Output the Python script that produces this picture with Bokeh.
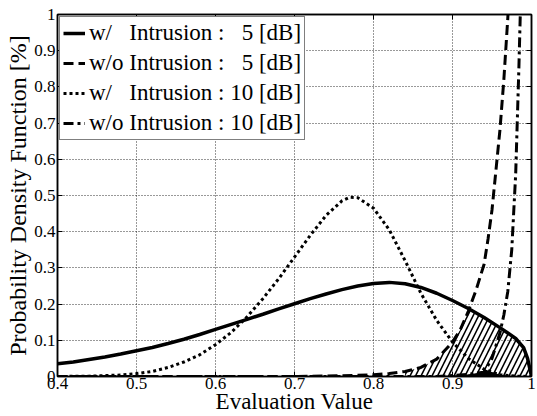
import numpy as np
from bokeh.plotting import figure
from bokeh.models import FixedTicker, Legend, LegendItem, Range1d, LinearAxis
from bokeh.embed import file_html
from bokeh.resources import INLINE

# w/ Intrusion : 5 [dB]  (solid)
x_w5 = [0.40, 0.42, 0.44, 0.46, 0.48, 0.50, 0.52, 0.54, 0.56, 0.58, 0.60, 0.62, 0.64, 0.66,
        0.68, 0.70, 0.72, 0.74, 0.76, 0.78, 0.80, 0.82, 0.84, 0.86, 0.88, 0.90, 0.92, 0.94,
        0.96, 0.97, 0.98, 0.99, 0.995, 1.00]
y_w5 = [0.035, 0.040, 0.047, 0.054, 0.062, 0.071, 0.080, 0.091, 0.103, 0.116, 0.130, 0.144,
        0.158, 0.172, 0.187, 0.201, 0.215, 0.228, 0.240, 0.250, 0.257, 0.260, 0.256, 0.246,
        0.230, 0.210, 0.188, 0.163, 0.135, 0.120, 0.105, 0.080, 0.050, 0.0]

# w/o Intrusion : 5 [dB]  (dashed)
x_wo5 = [0.40, 0.70, 0.76, 0.80, 0.82, 0.84, 0.86, 0.88, 0.90, 0.91, 0.92, 0.93, 0.94, 0.945,
         0.95, 0.96, 0.965, 0.97, 0.975]
y_wo5 = [0.0, 0.0, 0.002, 0.005, 0.008, 0.014, 0.025, 0.048, 0.095, 0.130, 0.180, 0.240,
         0.310, 0.380, 0.460, 0.680, 0.820, 0.990, 1.200]

# w/ Intrusion : 10 [dB]  (dotted)
x_w10 = [0.40, 0.44, 0.48, 0.50, 0.52, 0.54, 0.56, 0.58, 0.60, 0.62, 0.64, 0.66, 0.68, 0.70,
         0.72, 0.74, 0.76, 0.77, 0.78, 0.80, 0.82, 0.84, 0.86, 0.88, 0.90, 0.92, 0.94, 0.96,
         0.98, 1.00]
y_w10 = [0.0, 0.001, 0.004, 0.008, 0.014, 0.025, 0.040, 0.060, 0.088, 0.122, 0.165, 0.215,
         0.270, 0.330, 0.390, 0.445, 0.485, 0.495, 0.494, 0.465, 0.405, 0.320, 0.230, 0.155,
         0.095, 0.050, 0.020, 0.005, 0.001, 0.0]

# w/o Intrusion : 10 [dB]  (dash-dot)
x_wo10 = [0.40, 0.88, 0.90, 0.92, 0.94, 0.95, 0.96, 0.965, 0.97, 0.975, 0.98, 0.984, 0.987]
y_wo10 = [0.0, 0.0, 0.003, 0.006, 0.012, 0.050, 0.120, 0.170, 0.235, 0.350, 0.560, 0.850, 1.100]

x_ticks = [0.4, 0.5, 0.6, 0.7, 0.8, 0.9, 1.0]
y_ticks = [0.0, 0.1, 0.2, 0.3, 0.4, 0.5, 0.6, 0.7, 0.8, 0.9, 1.0]

labels = ["w/\u00a0\u00a0\u00a0Intrusion :\u00a0\u00a0\u00a05 [dB]",
          "w/o Intrusion :\u00a0\u00a0\u00a05 [dB]",
          "w/\u00a0\u00a0\u00a0Intrusion : 10 [dB]",
          "w/o Intrusion : 10 [dB]"]

FONT = "Liberation Serif"

p = figure(width=537, height=416, output_backend="svg", toolbar_location=None,
           x_range=Range1d(0.4, 1.0), y_range=Range1d(0, 1.0),
           min_border_left=57, min_border_right=6, min_border_top=14, min_border_bottom=39)

p.outline_line_color = "black"
p.outline_line_width = 1.5
p.background_fill_color = "white"

for ax, ticks in ((p.xaxis[0], x_ticks), (p.yaxis[0], y_ticks)):
    ax.ticker = FixedTicker(ticks=ticks)
    ax.major_tick_in = 5
    ax.major_tick_out = 0
    ax.minor_tick_line_color = None
    ax.axis_line_color = "black"
    ax.axis_line_width = 1.5
    ax.major_label_text_font = FONT
    ax.major_label_text_font_size = "17px"
    ax.major_label_text_color = "black"
    ax.axis_label_text_font = FONT
    ax.axis_label_text_font_style = "normal"
    ax.axis_label_text_color = "black"

p.xaxis.axis_label = "Evaluation Value"
p.yaxis.axis_label = "Probability Density Function [%]"
p.xaxis.axis_label_text_font_size = "23px"
p.yaxis.axis_label_text_font_size = "24px"
p.xaxis.major_label_overrides = {1.0: "1"}
p.yaxis.major_label_overrides = {0.0: "0", 1.0: "1"}
p.xaxis.major_label_standoff = 1
p.yaxis.major_label_standoff = 2
p.xaxis.axis_label_standoff = -3
p.yaxis.axis_label_standoff = 0

# inward ticks on the right and top edges (no labels)
for side, ticks in (("right", y_ticks), ("above", x_ticks)):
    ax2 = LinearAxis(ticker=FixedTicker(ticks=ticks))
    ax2.major_tick_in = 5
    ax2.major_tick_out = 0
    ax2.minor_tick_line_color = None
    ax2.major_label_text_font_size = "0px"
    ax2.major_label_standoff = 0
    ax2.axis_line_width = 1.5
    ax2.major_label_text_alpha = 0
    p.add_layout(ax2, side)

p.grid.grid_line_color = "black"
p.grid.grid_line_dash = "1 2"
p.grid.grid_line_width = 1
p.grid.grid_line_alpha = 0.8

# hatched overlap region between 5 dB curves
xs = np.linspace(0.84, 1.0, 161)
top5 = np.minimum(np.interp(xs, x_w5, y_w5), np.interp(xs, x_wo5, y_wo5, right=10))
p.varea(x=xs, y1=0, y2=top5, fill_alpha=0, hatch_pattern="/", hatch_color="black",
        hatch_weight=1.6, hatch_scale=11)

# filled overlap between 10 dB curves
xs2 = np.linspace(0.88, 1.0, 121)
top10 = np.minimum(np.interp(xs2, x_w10, y_w10), np.interp(xs2, x_wo10, y_wo10, right=10))
p.varea(x=xs2, y1=0, y2=top10, fill_color="black")

r1 = p.line(x_w5, y_w5, line_color="black", line_width=3.5)
r2 = p.line(x_wo5, y_wo5, line_color="black", line_width=3, line_dash="10 5")
r3 = p.line(x_w10, y_w10, line_color="black", line_width=3, line_dash="3 3")
r4 = p.line(x_wo10, y_wo10, line_color="black", line_width=3, line_dash="10 4 3 4")

legend = Legend(items=[LegendItem(label=labels[0], renderers=[r1]),
                       LegendItem(label=labels[1], renderers=[r2]),
                       LegendItem(label=labels[2], renderers=[r3]),
                       LegendItem(label=labels[3], renderers=[r4])],
                location="top_left")
legend.label_text_font = FONT
legend.label_text_font_size = "23px"
legend.label_text_color = "black"
legend.border_line_color = "black"
legend.border_line_width = 1.5
legend.background_fill_alpha = 1
legend.glyph_width = 22
legend.glyph_height = 22
legend.label_height = 22
legend.spacing = 4
legend.padding = 3
legend.margin = 2
legend.label_standoff = 4
p.add_layout(legend)

open("out.html", "w").write(file_html(p, INLINE))
